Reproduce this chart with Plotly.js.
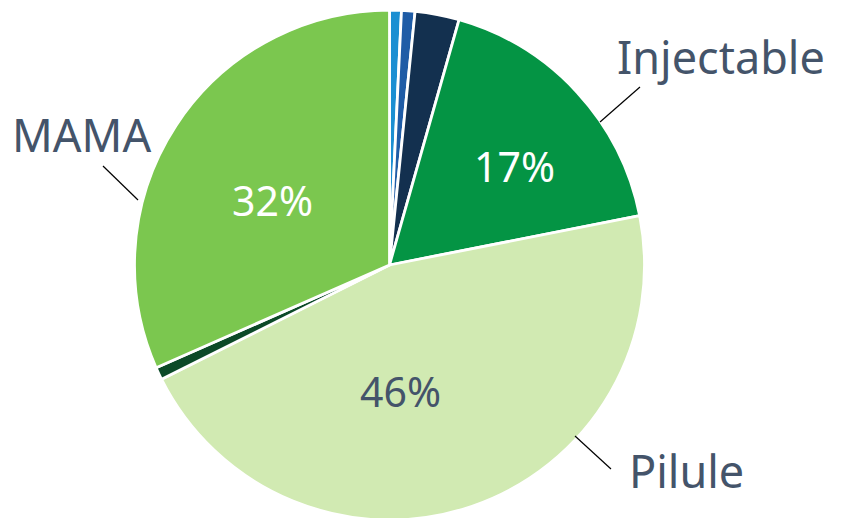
<!DOCTYPE html>
<html><head><meta charset="utf-8">
<script src="https://cdn.plot.ly/plotly-3.0.1.min.js"></script>
<style>html,body{margin:0;padding:0;background:#fff;overflow:hidden}#chart{width:846px;height:520px}</style>
</head><body><div id="chart"></div>
<script>
// Slices, clockwise from 12 o'clock
const categories = ["Autre 1", "Autre 2", "Autre 3", "Injectable", "Pilule", "Autre 4", "MAMA"];
const values = [0.75, 0.85, 2.8, 17.5, 45.7, 0.8, 31.6];
const pctLabels = ["", "", "", "17%", "46%", "", "32%"];
const colors = ["#1b8fd2", "#1f5ca6", "#13304f", "#049444", "#d1eab2", "#0c4a28", "#7bc74f"];
const textColors = ["#fff", "#fff", "#fff", "#ffffff", "#44546a", "#fff", "#ffffff"];

const W = 846, H = 520;
const cx = 389.5, cy = 265, R = 255;
const px = x => x / W, py = y => 1 - y / H;

const trace = {
  type: "pie",
  labels: categories,
  values: values,
  textinfo: "none",
  marker: {colors: colors, line: {color: "#ffffff", width: 2.8}},
  sort: false,
  direction: "clockwise",
  rotation: 0,
  showlegend: false,
  hoverinfo: "label+percent",
  domain: {x: [(cx - R) / W, (cx + R) / W], y: [py(cy + R), py(cy - R)]}
};

const labelFont = {family: "Noto Sans, sans-serif", size: 45, color: "#44546a"};
const outside = [
  {text: "Injectable", x: 721, y: 56, l: [[600, 122], [640, 87]]},
  {text: "MAMA", x: 81, y: 135, l: [[103, 166], [138, 200]]},
  {text: "Pilule", x: 686, y: 470, l: [[575, 436], [611, 469]]}
];
// inside percentage label positions (pixels)
const pctPos = {3: [514, 166], 4: [400, 391], 6: [272, 200]};

const pctAnn = Object.keys(pctPos).map(i => ({
  text: pctLabels[i], x: px(pctPos[i][0]), y: py(pctPos[i][1]), xref: "paper", yref: "paper",
  xanchor: "center", yanchor: "middle", showarrow: false,
  font: {family: "Noto Sans, sans-serif", size: 41, color: textColors[i]}
}));

const layout = {
  width: W, height: H,
  margin: {l: 0, r: 0, t: 0, b: 0},
  paper_bgcolor: "#ffffff",
  showlegend: false,
  annotations: outside.map(o => ({
    text: o.text, x: px(o.x), y: py(o.y), xref: "paper", yref: "paper",
    xanchor: "center", yanchor: "middle", showarrow: false, font: labelFont
  })).concat(pctAnn),
  shapes: outside.map(o => ({
    type: "line", xref: "paper", yref: "paper",
    x0: px(o.l[0][0]), y0: py(o.l[0][1]), x1: px(o.l[1][0]), y1: py(o.l[1][1]),
    line: {color: "#000000", width: 1.2}
  }))
};

Plotly.newPlot("chart", [trace], layout, {displayModeBar: false, staticPlot: true});
</script></body></html>
